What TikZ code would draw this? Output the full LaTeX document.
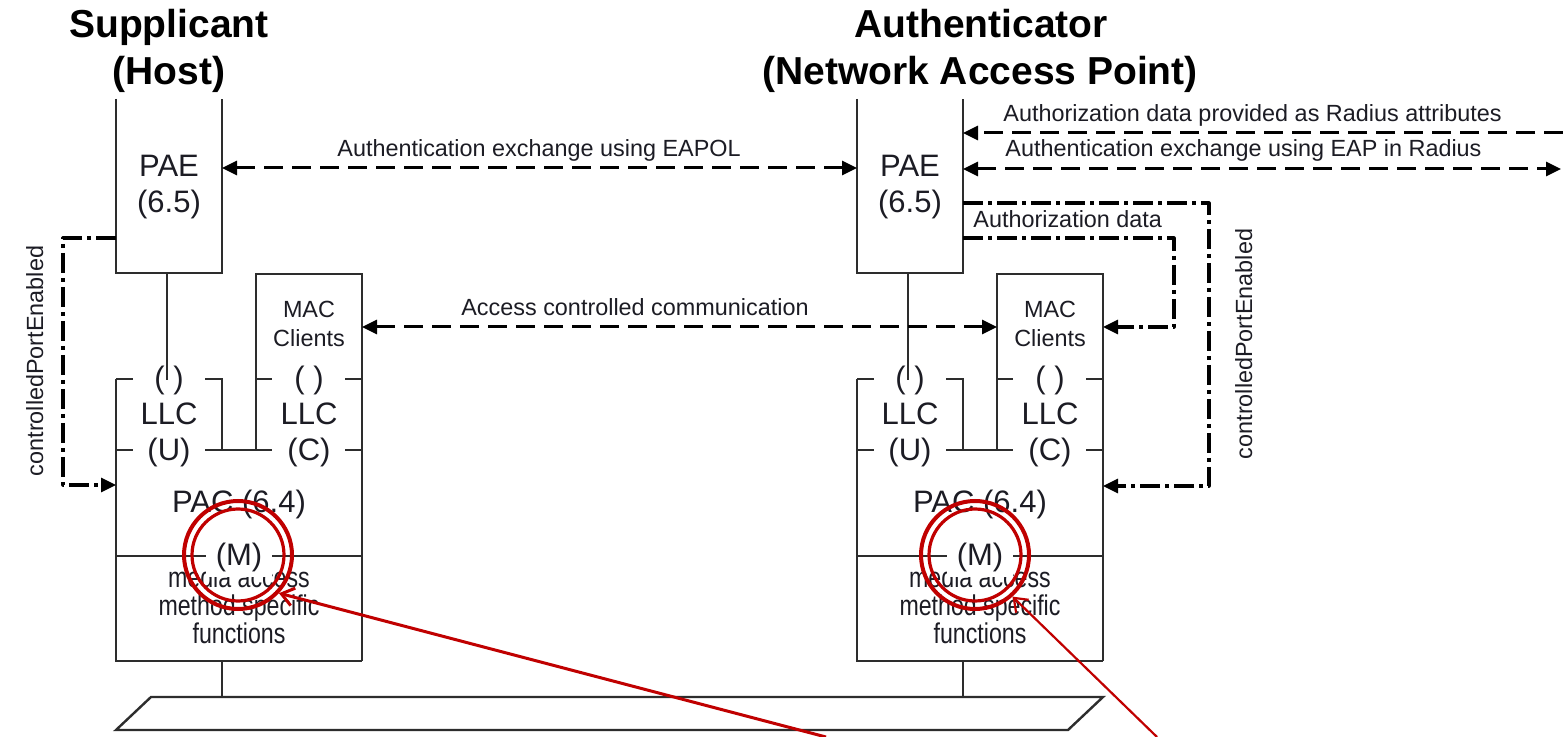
\documentclass[tikz,border=0pt]{standalone}
\usepackage{fontspec}
\setmainfont{Liberation Sans}
\newfontfamily\narrowsans[FakeStretch=0.81]{Liberation Sans}
\usetikzlibrary{arrows.meta}
\definecolor{ink}{RGB}{28,28,36}
\definecolor{linec}{RGB}{45,45,45}
\definecolor{annot}{RGB}{192,0,0}
\begin{document}
\begin{tikzpicture}[x=0.5pt,y=-0.5pt,
  boxline/.style={draw=linec, line width=1pt},
  big/.style={font=\fontsize{15.5}{18}\selectfont, text=ink, inner sep=0pt, anchor=base},
  small/.style={font=\fontsize{11.7}{14}\selectfont, text=ink, inner sep=0pt, anchor=base},
  narrow/.style={font=\narrowsans\fontsize{14.3}{17}\selectfont, text=ink, inner sep=0pt, anchor=base},
  title/.style={font=\bfseries\fontsize{19.5}{23}\selectfont, text=black, inner sep=0pt, anchor=base},
  dashline/.style={draw=black, line width=1.5pt, dash pattern=on 9.5pt off 4.5pt},
  dotline/.style={draw=black, line width=1.6pt, line join=round, dash pattern=on 10pt off 2.5pt on 2pt off 2.5pt},
  onearrow/.style={-{Triangle[length=7.5pt,width=7pt]}},
  twoarrow/.style={{Triangle[length=7.5pt,width=7pt]}-{Triangle[length=7.5pt,width=7pt]}},
  ringout/.style={circle, draw=annot, line width=2pt, minimum size=54pt, inner sep=0pt},
  ringin/.style={circle, draw=annot, line width=1.6pt, minimum size=46pt, inner sep=0pt},
  pointer/.style={draw=annot, -{Straight Barb[length=6pt,width=9pt]}}
]
\fill[white] (0,0) rectangle (1563,737);
\useasboundingbox (0,0) rectangle (1563,737);

% titles
\node[title] (sup) at (169,38) {Supplicant};
\node[title] (host) at (169,85) {(Host)};
\node[title] (auth) at (981,38) {Authenticator};
\node[title] (nap) at (980,85) {(Network Access Point)};

% the two protocol stacks
\foreach \s/\n in {0/L,370.5/R}{
\begin{scope}[xshift=\s pt]
  % PAE box (open top)
  \draw[boxline] (116,99) -- (116,273) -- (222,273) -- (222,99);
  % MAC clients box + right side of PAC
  \draw[boxline] (256,450) -- (256,274) -- (362,274) -- (362,661);
  % PAC left and bottom
  \draw[boxline] (116,379) -- (116,661) -- (362,661);
  % LLC segments
  \draw[boxline] (116,379) -- (133,379);
  \draw[boxline] (205,379) -- (222,379) -- (222,450);
  \draw[boxline] (116,450) -- (133,450);
  \draw[boxline] (205,450) -- (272,450);
  \draw[boxline] (256,379) -- (272,379);
  \draw[boxline] (345,379) -- (362,379);
  \draw[boxline] (345,450) -- (362,450);
  % PAE stem
  \coordinate (paeBot\n) at (167,273);
  \coordinate (sapU\n) at (167,380);
  \draw[boxline] (paeBot\n) -- (sapU\n);
  % separator line
  \coordinate (sepW\n) at (116,556);
  \coordinate (sepE\n) at (362,556);
  \draw[boxline] (sepW\n) -- (sepE\n);
  % stem to medium
  \coordinate (pacBot\n) at (222,661);
  \coordinate (busTop\n) at (222,697);
  \draw[boxline] (pacBot\n) -- (busTop\n);
  % connection points
  \coordinate (paeLeft\n) at (116,168);
  \coordinate (paeRight\n) at (222,168);
  \coordinate (macLeft\n) at (256,327);
  \coordinate (macRight\n) at (362,327);
  \coordinate (paeLow\n) at (116,238);
  \coordinate (pacLeft\n) at (116,485);
  % texts
  \node[big] (pae\n) at (169,177) {PAE};
  \node[big] (paeNum\n) at (169,213) {(6.5)};
  \node[small] (mac\n) at (309,318) {MAC};
  \node[small] (cli\n) at (309,347) {Clients};
  \node[big] (parU\n) at (169,389) {( )};
  \node[big] (llcU\n) at (169,425) {LLC};
  \node[big] (u\n) at (169,460) {(U)};
  \node[big] (parC\n) at (309,389) {( )};
  \node[big] (llcC\n) at (309,425) {LLC};
  \node[big] (c\n) at (309,460) {(C)};
  \node[big] (pac\n) at (239,512) {PAC (6.4)};
  \node[narrow] (mfa\n) at (239,587) {media access};
  \node[narrow] (mfb\n) at (239,615) {method specific};
  \node[narrow] (mfc\n) at (239,643) {functions};
  \node[big, fill=white, inner xsep=5pt, inner ysep=2.75pt] (m\n) at (239,565) {(M)};
\end{scope}
}

% medium
\draw[boxline, line width=1.2pt] (116,730) -- (151,697) -- (1103,697) -- (1068,730) -- cycle;

% EAPOL exchange and access controlled communication
\draw[dashline,twoarrow] (paeRightL) -- (paeLeftR);
\node[small, anchor=base west] (lblEapol) at (337,157) {Authentication exchange using EAPOL};
\draw[dashline,twoarrow] (macRightL) -- (macLeftR);
\node[small] (lblAcc) at (635,316) {Access controlled communication};

% Radius side
\coordinate (radIn) at (1563,133);
\coordinate (paeRadA) at (963,133);
\coordinate (radOut) at (1561,169);
\coordinate (paeRadB) at (963,169);
\draw[dashline,onearrow] (radIn) -- (paeRadA);
\node[small, anchor=base west] (lblRadA) at (1003,122) {Authorization data provided as Radius attributes};
\draw[dashline,twoarrow] (paeRadB) -- (radOut);
\node[small, anchor=base west] (lblRadB) at (1005,157) {Authentication exchange using EAP in Radius};

% controlledPortEnabled (supplicant)
\coordinate (cpeL1) at (63,238);
\coordinate (cpeL2) at (63,485);
\draw[dotline,onearrow] (paeLowL) -- (cpeL1) -- (cpeL2) -- (pacLeftL);
\node[small, rotate=90] (cpeTxtL) at (43,361) {controlledPortEnabled};

% controlledPortEnabled (authenticator)
\coordinate (paeCpe) at (963,203);
\coordinate (cpeR1) at (1209,203);
\coordinate (cpeR2) at (1209,486);
\coordinate (pacRin) at (1103,486);
\draw[dotline,onearrow] (paeCpe) -- (cpeR1) -- (cpeR2) -- (pacRin);
\node[small, rotate=90] (cpeTxtR) at (1252,344) {controlledPortEnabled};

% Authorization data
\coordinate (paeAuth) at (963,238);
\coordinate (authC1) at (1174,238);
\coordinate (authC2) at (1174,327);
\draw[dotline,onearrow] (paeAuth) -- (authC1) -- (authC2) -- (macRightR);
\node[small, anchor=base west] (lblAuth) at (973,228) {Authorization data};

% red annotation rings and pointers
\node[ringout] (ringL) at (238,555) {};
\node[ringin] (ringLi) at (238,555) {};
\node[ringout] (ringR) at (975,555) {};
\node[ringin] (ringRi) at (975,555) {};
\coordinate (ptrL) at (826,737);
\coordinate (ptrR) at (1157,737);
\draw[pointer, line width=1.5pt] (ptrL) -- (ringL.-43);
\draw[pointer, line width=1.1pt] (ptrR) -- (ringR.-48);
\end{tikzpicture}
\end{document}
